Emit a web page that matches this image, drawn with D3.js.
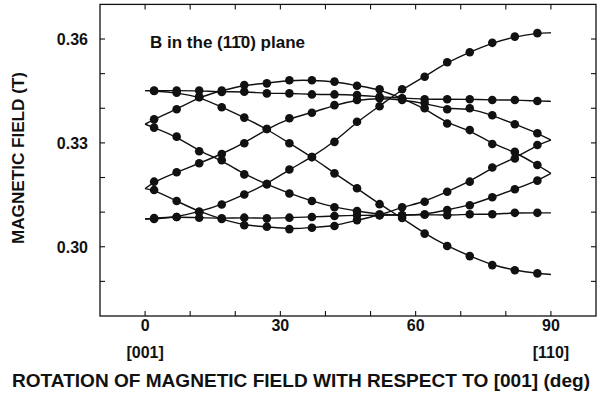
<!DOCTYPE html>
<html><head><meta charset="utf-8">
<script src="https://cdn.jsdelivr.net/npm/d3@7"></script>
<style>
html,body{margin:0;padding:0;background:#fff;}
text{font-family:"Liberation Sans",Arial,Helvetica,sans-serif;font-weight:bold;fill:#111;}
</style></head>
<body><svg id="c" width="605" height="398"></svg>
<script>
// Angles (deg) for the line ends and measured points: 0, points..., 90
const angles = [0, 2, 7, 12, 17, 22, 27, 32, 37, 42, 47, 52, 57, 62, 67, 72, 77, 82, 87, 90];
// Resonance fields (T) for each branch
const branch1 = [0.3080, 0.3080, 0.3086, 0.3101, 0.3122, 0.3151, 0.3181, 0.3223, 0.3259, 0.3303, 0.3361, 0.3406, 0.3455, 0.3491, 0.3533, 0.3562, 0.3589, 0.3607, 0.3617, 0.3618];
const branch2 = [0.3080, 0.3083, 0.3086, 0.3084, 0.3082, 0.3084, 0.3082, 0.3084, 0.3086, 0.3089, 0.3091, 0.3091, 0.3091, 0.3093, 0.3091, 0.3094, 0.3094, 0.3098, 0.3098, 0.3098];
const branch3 = [0.3168, 0.3164, 0.3132, 0.3101, 0.3080, 0.3062, 0.3058, 0.3051, 0.3055, 0.3060, 0.3077, 0.3091, 0.3114, 0.3130, 0.3159, 0.3188, 0.3229, 0.3255, 0.3294, 0.3308];
const branch4 = [0.3354, 0.3344, 0.3318, 0.3276, 0.3250, 0.3209, 0.3181, 0.3154, 0.3132, 0.3114, 0.3103, 0.3094, 0.3091, 0.3093, 0.3106, 0.3120, 0.3143, 0.3166, 0.3191, 0.3212];
const branch5 = [0.3354, 0.3368, 0.3397, 0.3432, 0.3451, 0.3467, 0.3472, 0.3481, 0.3481, 0.3477, 0.3465, 0.3455, 0.3428, 0.3400, 0.3356, 0.3337, 0.3297, 0.3274, 0.3236, 0.3212];
const branch6 = [0.3168, 0.3188, 0.3215, 0.3241, 0.3268, 0.3299, 0.3340, 0.3371, 0.3387, 0.3409, 0.3424, 0.3429, 0.3424, 0.3415, 0.3397, 0.3400, 0.3380, 0.3354, 0.3328, 0.3308];
const branch7 = [0.3451, 0.3450, 0.3445, 0.3433, 0.3403, 0.3373, 0.3340, 0.3299, 0.3259, 0.3212, 0.3169, 0.3123, 0.3083, 0.3038, 0.3002, 0.2973, 0.2947, 0.2932, 0.2923, 0.2920];
const branch8 = [0.3451, 0.3451, 0.3451, 0.3451, 0.3447, 0.3448, 0.3443, 0.3443, 0.3440, 0.3440, 0.3438, 0.3433, 0.3429, 0.3426, 0.3426, 0.3426, 0.3424, 0.3424, 0.3421, 0.3420];
const branches = [branch1, branch2, branch3, branch4, branch5, branch6, branch7, branch8];

const xTicks = [0, 10, 20, 30, 40, 50, 60, 70, 80, 90];
const xLabels = [0, 30, 60, 90];
const xSubLabels = [{v: 0, t: "[001]"}, {v: 90, t: "[110]"}];
const yTicks = [0.29, 0.30, 0.31, 0.32, 0.33, 0.34, 0.35, 0.36];
const yLabels = [0.30, 0.33, 0.36];

const svg = d3.select("#c");
const L = 100, R = 596, T = 4.4, B = 316;
const x = d3.scaleLinear().domain([-10, 100]).range([L, R]);
const y = d3.scaleLinear().domain([0.28, 0.37]).range([B, T]);

// frame
svg.append("rect").attr("x", L).attr("y", T).attr("width", R - L).attr("height", B - T)
  .attr("fill", "none").attr("stroke", "#111").attr("stroke-width", 1.3);

const tl = 5;
const ax = svg.append("g").attr("stroke", "#111").attr("stroke-width", 1.1);
xTicks.forEach(v => {
  ax.append("line").attr("x1", x(v)).attr("x2", x(v)).attr("y1", B).attr("y2", B - tl);
  ax.append("line").attr("x1", x(v)).attr("x2", x(v)).attr("y1", T).attr("y2", T + tl);
});
yTicks.forEach(v => {
  ax.append("line").attr("y1", y(v)).attr("y2", y(v)).attr("x1", L).attr("x2", L + tl);
  ax.append("line").attr("y1", y(v)).attr("y2", y(v)).attr("x1", R).attr("x2", R - tl);
});

// tick labels
svg.selectAll(".xl").data(xLabels).enter().append("text")
  .attr("x", d => x(d)).attr("y", 331).attr("text-anchor", "middle")
  .attr("font-size", 16).text(d => d);
svg.selectAll(".xs").data(xSubLabels).enter().append("text")
  .attr("x", d => x(d.v)).attr("y", 358).attr("text-anchor", "middle")
  .attr("font-size", 16).text(d => d.t);
svg.selectAll(".yl").data(yLabels).enter().append("text")
  .attr("x", 88).attr("y", d => y(d) + 6).attr("text-anchor", "end")
  .attr("font-size", 16).text(d => d3.format(".2f")(d));

// axis titles
svg.append("text").attr("x", 301).attr("y", 387).attr("text-anchor", "middle")
  .attr("font-size", 18).attr("textLength", 578).attr("lengthAdjust", "spacingAndGlyphs")
  .text("ROTATION OF MAGNETIC FIELD WITH RESPECT TO [001] (deg)");
svg.append("text").attr("transform", "translate(24,158) rotate(-90)")
  .attr("text-anchor", "middle").attr("font-size", 17).attr("textLength", 172).attr("lengthAdjust", "spacingAndGlyphs")
  .text("MAGNETIC FIELD (T)");

// annotation
svg.append("text").attr("x", 150).attr("y", 48).attr("font-size", 16)
  .attr("textLength", 155).attr("lengthAdjust", "spacingAndGlyphs")
  .text("B in the (1" + "1\u0304" + "0) plane");

// lines
const line = d3.line().x((d, i) => x(angles[i])).y(d => y(d)).curve(d3.curveBasis);
const g = svg.append("g");
branches.forEach(b => {
  g.append("path").attr("d", line(b)).attr("fill", "none").attr("stroke", "#111").attr("stroke-width", 1.4);
});
// measured points (line end values excluded)
branches.forEach(b => {
  g.selectAll(null).data(b.slice(1, -1)).enter().append("circle")
    .attr("cx", (d, i) => x(angles[i + 1])).attr("cy", d => y(d)).attr("r", 4.3).attr("fill", "#111");
});
</script></body></html>
